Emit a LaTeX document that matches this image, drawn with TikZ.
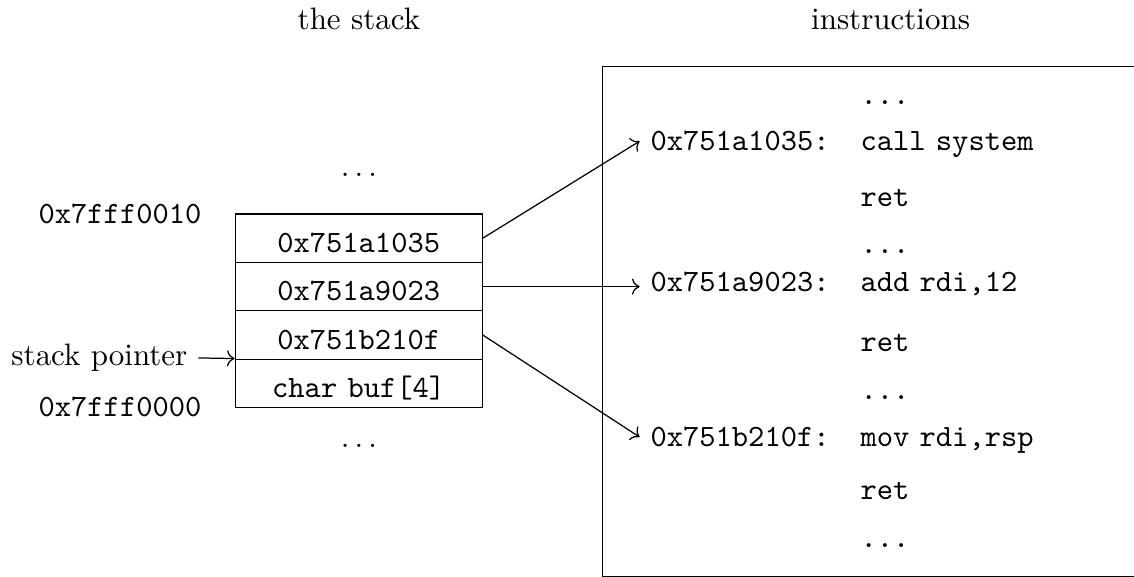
\documentclass[tikz,border=0pt]{standalone}
\usetikzlibrary{arrows.meta,positioning,calc}

\begin{document}
\begin{tikzpicture}[
  cell/.style={draw, minimum width=2.8cm, inner sep=0pt,
    text height=12.4pt, text depth=3.2pt},
  addr/.style={anchor=base west, font=\ttfamily},
  instr/.style={anchor=base west},
  side/.style={anchor=base, font=\ttfamily},
  arr/.style={->}
]
\useasboundingbox (0,0) rectangle (12.86,-6.54);
% headings
\node[anchor=base] (stacktitle) at (4.07,-0.34) {the stack};
\node[anchor=base] (instrtitle) at (10.10,-0.34) {instructions};
% the stack
\node[anchor=base] (sdots1) at (4.07,-2.007) {$\ldots$};
\node[cell] (s1) at (4.068,-2.701) {\texttt{0x751a1035}};
\node[cell] (s2) at (4.068,-3.250) {\texttt{0x751a9023}};
\node[cell] (s3) at (4.068,-3.799) {\texttt{0x751b210f}};
\node[cell] (s4) at (4.068,-4.347) {\texttt{char} \texttt{buf[4]}};
\node[anchor=base] (sdots2) at (4.07,-5.080) {$\ldots$};
\node[side] (hi) at (1.361,-2.529) {0x7fff0010};
\node[side] (lo) at (1.361,-4.725) {0x7fff0000};
\node[anchor=base east] (sp) at (2.249,-4.147) {stack pointer};
% instructions (frame runs off the right edge)
\draw (12.95,-0.756) -| (6.834,-6.537) -- (12.95,-6.537);
\node[instr] (d1) at (9.635,-1.183) {\texttt{...}};
\node[addr] (a1) at (7.254,-1.709) {0x751a1035:};
\node[instr] (c1) at (9.635,-1.709) {\texttt{call} \texttt{system}};
\node[instr] (t1) at (9.635,-2.344) {\texttt{ret}};
\node[instr] (d2) at (9.635,-2.872) {\texttt{...}};
\node[addr] (a2) at (7.254,-3.308) {0x751a9023:};
\node[instr] (c2) at (9.635,-3.308) {\texttt{add} \texttt{rdi,12}};
\node[instr] (t2) at (9.635,-3.988) {\texttt{ret}};
\node[instr] (d3) at (9.635,-4.536) {\texttt{...}};
\node[addr] (a3) at (7.254,-5.065) {0x751b210f:};
\node[instr] (c3) at (9.635,-5.065) {\texttt{mov} \texttt{rdi,rsp}};
\node[instr] (t3) at (9.635,-5.670) {\texttt{ret}};
\node[instr] (d4) at (9.635,-6.214) {\texttt{...}};
% pointers
\draw[arr] (sp.east) -- (s4.north west);
\draw[arr] (s1.east) -- (a1.west);
\draw[arr] (s2.east) -- (s2.east -| a2.west);
\draw[arr] (s3.east) -- (a3.west);
\end{tikzpicture}
\end{document}
